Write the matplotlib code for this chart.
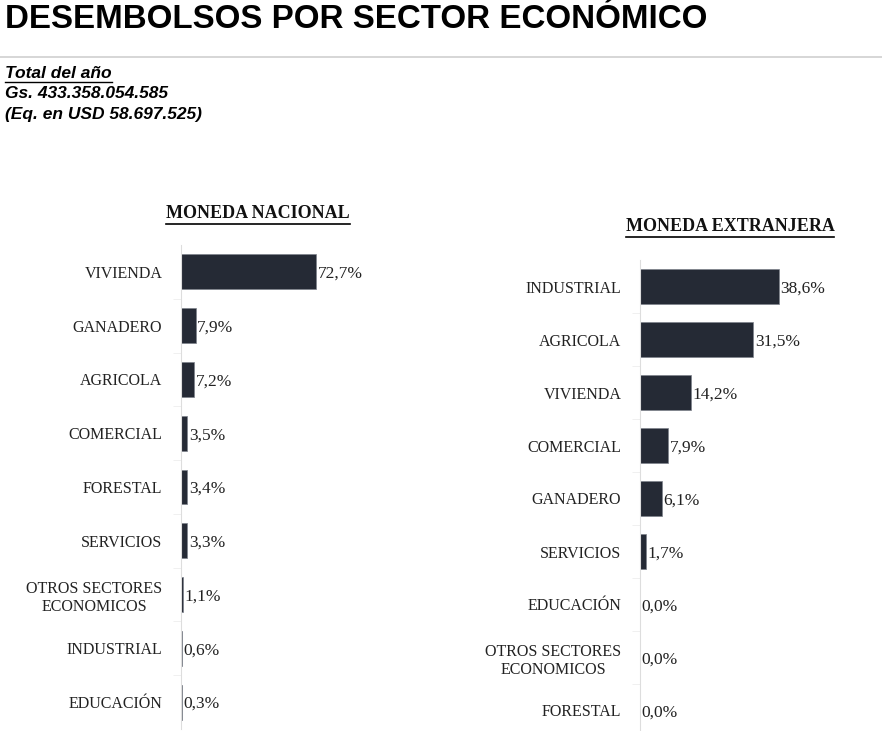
import matplotlib
matplotlib.use("Agg")
import matplotlib.pyplot as plt
from matplotlib.lines import Line2D

W, H = 882, 731

nac_sectors = ["VIVIENDA", "GANADERO", "AGRICOLA", "COMERCIAL", "FORESTAL",
               "SERVICIOS", "OTROS SECTORES\nECONOMICOS", "INDUSTRIAL", "EDUCACIÓN"]
nac_values = [72.7, 7.9, 7.2, 3.5, 3.4, 3.3, 1.1, 0.6, 0.3]

ext_sectors = ["INDUSTRIAL", "AGRICOLA", "VIVIENDA", "COMERCIAL", "GANADERO",
               "SERVICIOS", "EDUCACIÓN", "OTROS SECTORES\nECONOMICOS", "FORESTAL"]
ext_values = [38.6, 31.5, 14.2, 7.9, 6.1, 1.7, 0.0, 0.0, 0.0]

BAR = "#252a35"
SERIF = ["Liberation Serif", "DejaVu Serif"]
SANS = ["Liberation Sans", "DejaVu Sans"]

fig = plt.figure(figsize=(W / 100, H / 100), dpi=100)


def px_axes(x0, y_top, w, h):
    return fig.add_axes([x0 / W, (H - y_top - h) / H, w / W, h / H])


def underline(txt, gap=2, lw=1.2):
    fig.canvas.draw()
    bb = txt.get_window_extent()
    y = (bb.y0 - gap) / H
    fig.add_artist(Line2D([bb.x0 / W, bb.x1 / W], [y, y], color="black", lw=lw))


def draw_panel(ax, sectors, values, xmax):
    ys = list(range(len(sectors)))
    ax.barh(ys, values, height=0.65, color=BAR, edgecolor="#7d828c", linewidth=0.5)
    ax.set_ylim(len(sectors) - 0.5, -0.5)
    ax.set_xlim(0, xmax)
    ax.set_yticks(ys)
    ax.set_yticklabels(sectors, fontfamily=SERIF, fontsize=11.5, color="#222222")
    for lab in ax.get_yticklabels():
        lab.set_multialignment("center")
    ax.set_yticks([y + 0.5 for y in ys[:-1]], minor=True)
    ax.tick_params(axis="y", which="major", length=0, pad=13.5)
    ax.tick_params(axis="y", which="minor", length=6, color="#eeeeee")
    ax.set_xticks([])
    for s in ["top", "right", "bottom"]:
        ax.spines[s].set_visible(False)
    ax.spines["left"].set_color("#dddddd")
    ax.spines["left"].set_linewidth(0.8)
    for y, v in zip(ys, values):
        ax.annotate(f"{v:.1f}%".replace(".", ","), (v, y), xytext=(1.2, 0),
                    textcoords="offset points", va="center_baseline", ha="left",
                    fontfamily=SERIF, fontsize=12.5, color="#222222")


ax1 = px_axes(181, 245, 219, 484)
draw_panel(ax1, nac_sectors, nac_values, 219 / 1.857)

ax2 = px_axes(640, 260, 242, 477)
draw_panel(ax2, ext_sectors, ext_values, 242 / 3.6)

# header: fit the title to its width in the reference
title = fig.text(5 / W, 1 - 19 / H, "DESEMBOLSOS POR SECTOR ECONÓMICO", fontfamily=SANS,
                 fontweight="bold", fontsize=30, va="center", ha="left")
fig.canvas.draw()
tw = title.get_window_extent().width
title.set_fontsize(30 * 702 / tw)

fig.add_artist(Line2D([0, 1], [1 - 57 / H, 1 - 57 / H], color="#d0d0d0", lw=1.2))

t1 = fig.text(5 / W, 1 - 73 / H, "Total del año", fontfamily=SANS, fontweight="bold",
              fontstyle="italic", fontsize=12.5, va="center", ha="left")
fig.text(5 / W, 1 - 93 / H, "Gs. 433.358.054.585", fontfamily=SANS, fontweight="bold",
         fontstyle="italic", fontsize=12.5, va="center", ha="left")
fig.text(5 / W, 1 - 114 / H, "(Eq. en USD 58.697.525)", fontfamily=SANS, fontweight="bold",
         fontstyle="italic", fontsize=12.5, va="center", ha="left")

h1 = fig.text(258 / W, 1 - 213 / H, "MONEDA NACIONAL", fontfamily=SERIF, fontweight="bold",
              fontsize=13, va="center", ha="center", color="#111111")
h2 = fig.text(730 / W, 1 - 226 / H, "MONEDA EXTRANJERA", fontfamily=SERIF, fontweight="bold",
              fontsize=13, va="center", ha="center", color="#111111")

underline(t1, gap=1, lw=1.0)
underline(h1, gap=2, lw=1.2)
underline(h2, gap=2, lw=1.2)

fig.savefig("out.png", dpi=100)
